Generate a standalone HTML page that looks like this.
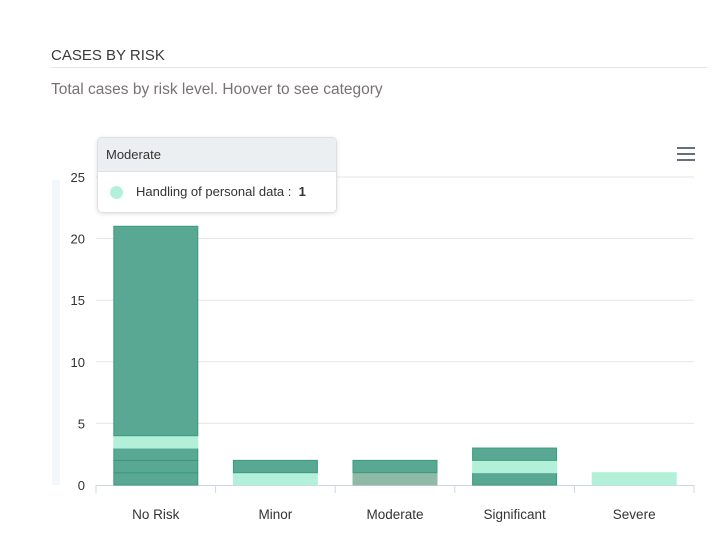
<!DOCTYPE html>
<html><head><meta charset="utf-8"><style>
body{margin:0;background:#fff;font-family:"Liberation Sans",sans-serif;}
#wrap{position:relative;width:728px;height:544px;overflow:hidden;background:#fff}
.t{position:absolute;left:51px;top:47px;font-size:15px;color:#3a3a3a;}
.hr{position:absolute;left:51px;top:67px;width:656px;height:1px;background:#e4e4e4}
.sub{position:absolute;left:51px;top:81px;font-size:15.5px;color:#7a7272}
.tip{position:absolute;left:97px;top:137px;width:238px;height:74px;border:1px solid #e0e0e0;border-radius:5px;background:#fff;box-shadow:0 1px 4px rgba(0,0,0,.12);overflow:hidden;font-size:13px;color:#333}
.tip .h{background:#eceff1;height:33px;line-height:34px;padding-left:8px;border-bottom:1px solid #e0e0e0}
.tip .r{height:40px;line-height:40px;padding-left:38px;position:relative}
.tip .d{position:absolute;left:12px;top:14px;width:13px;height:13px;border-radius:50%;background:#b3f0d9}
</style></head><body>
<div id="wrap">
<div class="t">CASES BY RISK</div>
<div class="hr"></div>
<div class="sub">Total cases by risk level. Hoover to see category</div>
<svg id="svg" width="728" height="544" style="position:absolute;left:0;top:0"></svg>
<div class="tip"><div class="h">Moderate</div><div class="r"><span class="d"></span>Handling of personal data :&nbsp; <b>1</b></div></div>
</div>
<script>
const categories=["No Risk","Minor","Moderate","Significant","Severe"];
const yTicks=[0,5,10,15,20,25];
const seriesA=[1,0,0,1,0];
const seriesB=[0,1,1,0,1];
const seriesC=[1,1,1,0,0];
const seriesD=[0,0,0,1,0];
const seriesE=[1,0,0,1,0];
const seriesF=[1,0,0,0,0];
const seriesG=[17,0,0,0,0];
const series=[{v:seriesA,k:"d"},{v:seriesB,k:"l"},{v:seriesC,k:"d"},{v:seriesD,k:"l"},{v:seriesE,k:"d"},{v:seriesF,k:"l"},{v:seriesG,k:"d"}];
const svg=document.getElementById('svg');const NS='http://www.w3.org/2000/svg';
const x0=96,x1=694,y0=485,ymax=25,ytop=177;
const yS=v=>y0-(v/ymax)*(y0-ytop);
const bw=(x1-x0)/categories.length;
function mk(t,a){const e=document.createElementNS(NS,t);for(const k in a)e.setAttribute(k,a[k]);svg.appendChild(e);return e;}
let band=mk('rect',{x:52,y:180,width:8,height:305,fill:'#f3f7fc'});


yTicks.forEach(t=>{const y=yS(t);
 if(t>0){let g=mk('line',{x1:x0,x2:x1,y1:y,y2:y,stroke:'#e6e6e6'});}
 let l=mk('text',{x:85,y:y+5,'text-anchor':'end','font-size':13,fill:'#333'});l.textContent=t;
 });
let ax=mk('line',{x1:x0,x2:x1,y1:y0+.5,y2:y0+.5,stroke:'#ccd6eb'});

for(let i=0;i<=categories.length;i++){let tk=mk('line',{x1:x0+i*bw,x2:x0+i*bw,y1:y0,y2:y0+8,stroke:'#ccd6eb'});}
categories.forEach((c,i)=>{const cx=x0+bw*(i+.5);
 let l=mk('text',{x:cx,y:519,'text-anchor':'middle','font-size':13.5,fill:'#333'});l.textContent=c;
 
 let acc=0;
 series.forEach((s,si)=>{const v=s.v[i];if(!v)return;
  const ya=yS(acc),yb=yS(acc+v);acc+=v;
  let fill=s.k==='d'?'#58a893':'#b3f0d9',st=s.k==='d'?'#3e9a7e':'#b3f0d9';
  if(c==='Moderate'&&s.k==='l'){fill='#8fbaa5';st='#8fbaa5';}
  let r=mk('rect',{x:cx-42,y:yb,width:84,height:ya-yb,fill:fill,stroke:st,'stroke-width':1});
  });
});
[0,6,12].forEach(d=>{let m=mk('rect',{x:677,y:147+d,width:18,height:2,fill:'#666e80'});});
</script>
</body></html>
